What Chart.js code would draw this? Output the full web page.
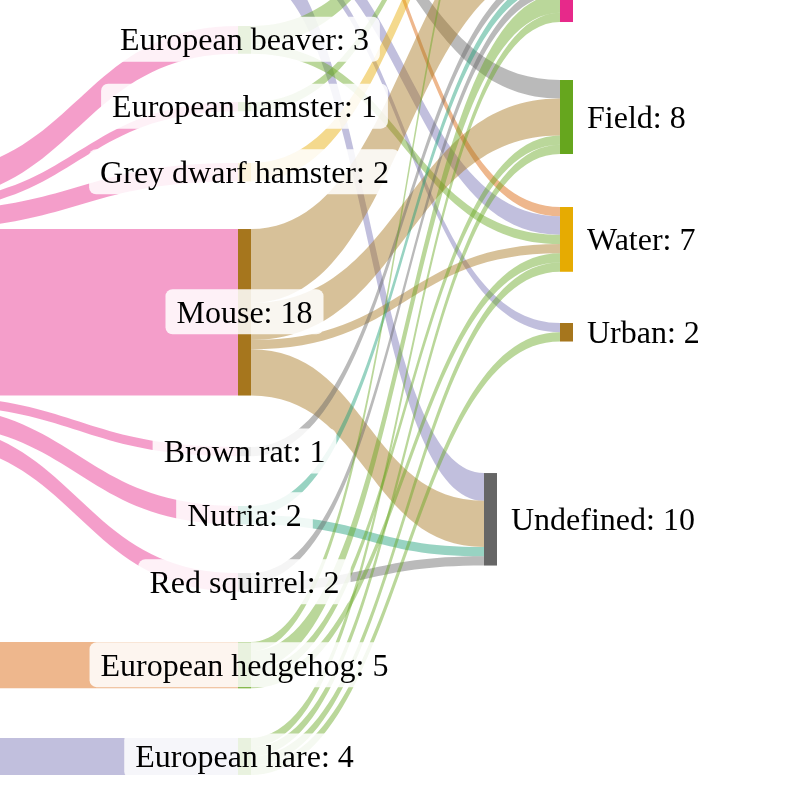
<!DOCTYPE html>
<html>
<head>
<meta charset="utf-8">
<script src="https://cdn.jsdelivr.net/npm/chart.js@4.4.1/dist/chart.umd.min.js"></script>
<style>
  html, body { margin: 0; padding: 0; background: #fff; }
  #wrap { width: 800px; height: 800px; }
</style>
</head>
<body>
<div id="wrap"><canvas id="sankey" width="800" height="800"></canvas></div>
<script>
// ---- data ----
const nodeNames = [
  'Rodentia', 'Eulipotyphla', 'Lagomorpha',
  'Stoat', 'Wild boar', 'Roe deer',
  'European beaver', 'European hamster', 'Grey dwarf hamster', 'Mouse',
  'Brown rat', 'Nutria', 'Red squirrel', 'European hedgehog', 'European hare',
  'Undefined',
  'Garden', 'Forest', 'Hedge', 'Field', 'Water', 'Urban'
];
const nodeColumn = [0, 0, 0, 1, 1, 1, 1, 1, 1, 1, 1, 1, 1, 1, 1, 2, 3, 3, 3, 3, 3, 3];

const linkSource = [
  'Rodentia', 'Rodentia', 'Rodentia', 'Rodentia', 'Rodentia', 'Rodentia', 'Rodentia',
  'Eulipotyphla', 'Lagomorpha',
  'Stoat', 'Wild boar', 'Roe deer', 'Roe deer', 'Roe deer',
  'European beaver', 'European beaver', 'European hamster', 'Grey dwarf hamster',
  'Mouse', 'Mouse', 'Mouse', 'Mouse',
  'Brown rat', 'Nutria', 'Nutria', 'Red squirrel', 'Red squirrel',
  'European hedgehog', 'European hedgehog', 'European hedgehog', 'European hedgehog',
  'European hare', 'European hare', 'European hare', 'European hare'
];
const linkTarget = [
  'European beaver', 'European hamster', 'Grey dwarf hamster', 'Mouse', 'Brown rat', 'Nutria', 'Red squirrel',
  'European hedgehog', 'European hare',
  'Water', 'Field', 'Water', 'Urban', 'Undefined',
  'Forest', 'Water', 'Forest', 'Forest',
  'Hedge', 'Field', 'Water', 'Undefined',
  'Hedge', 'Hedge', 'Undefined', 'Hedge', 'Undefined',
  'Garden', 'Hedge', 'Field', 'Water',
  'Hedge', 'Field', 'Water', 'Urban'
];
const linkValue = [
  3, 1, 2, 18, 1, 2, 2,
  5, 4,
  1, 2, 2, 1, 3,
  2, 1, 1, 2,
  8, 4, 1, 5,
  1, 1, 1, 1, 1,
  1, 2, 1, 1,
  1, 1, 1, 1
];

// ---- layout / style ----
const dark2 = {
  teal: '#1b9e77', orange: '#d95f02', purple: '#7570b3', pink: '#e7298a',
  green: '#66a61e', yellow: '#e6ab02', brown: '#a6761d', gray: '#666666'
};
const nodeColor = {
  'Rodentia': dark2.pink, 'Eulipotyphla': dark2.orange, 'Lagomorpha': dark2.purple,
  'Stoat': dark2.orange, 'Wild boar': dark2.gray, 'Roe deer': dark2.purple,
  'European beaver': dark2.green, 'European hamster': dark2.green, 'Grey dwarf hamster': dark2.yellow,
  'Mouse': dark2.brown, 'Brown rat': dark2.gray, 'Nutria': dark2.teal, 'Red squirrel': dark2.gray,
  'European hedgehog': dark2.green, 'European hare': dark2.green,
  'Undefined': dark2.gray,
  'Garden': dark2.orange, 'Forest': dark2.purple, 'Hedge': dark2.pink,
  'Field': dark2.green, 'Water': dark2.yellow, 'Urban': dark2.brown
};
// node top edge, in value units on the y scale
const nodeTop = {
  'Rodentia': 18.76, 'Eulipotyphla': 69.41, 'Lagomorpha': 79.78,
  'Stoat': -22.39, 'Wild boar': -15.99, 'Roe deer': -8.59,
  'European beaver': 2.81, 'European hamster': 11.03, 'Grey dwarf hamster': 17.62,
  'Mouse': 24.76, 'Brown rat': 48.32, 'Nutria': 54.70, 'Red squirrel': 61.95,
  'European hedgehog': 69.41, 'European hare': 79.78,
  'Undefined': 51.14,
  'Garden': -29.12, 'Forest': -22.37, 'Hedge': -11.62,
  'Field': 8.65, 'Water': 22.38, 'Urban': 34.92
};
const colLeft = [-95, 238, 484, 560];
const nodeWidth = 13;
const flowAlpha = 0.45;
const labelFont = '32px "Liberation Serif", "Times New Roman", serif';

// ---- sankey bookkeeping ----
const idx = {};
nodeNames.forEach((n, i) => idx[n] = i);
const links = linkValue.map((v, i) => ({ s: idx[linkSource[i]], t: idx[linkTarget[i]], v: v }));
const inSum = nodeNames.map(() => 0), outSum = nodeNames.map(() => 0);
links.forEach(l => { outSum[l.s] += l.v; inSum[l.t] += l.v; });
const nodeValue = nodeNames.map((n, i) => Math.max(inSum[i], outSum[i]));
const topOf = i => nodeTop[nodeNames[i]];
const centerOf = i => topOf(i) + nodeValue[i] / 2;

nodeNames.forEach((n, i) => {
  let off = topOf(i);
  links.filter(l => l.s === i).sort((a, b) => centerOf(a.t) - centerOf(b.t))
    .forEach(l => { l.sy = off; off += l.v; });
  off = topOf(i);
  links.filter(l => l.t === i).sort((a, b) => centerOf(a.s) - centerOf(b.s))
    .forEach(l => { l.ty = off; off += l.v; });
});

function rgba(hex, a) {
  const r = parseInt(hex.slice(1, 3), 16), g = parseInt(hex.slice(3, 5), 16), b = parseInt(hex.slice(5, 7), 16);
  return `rgba(${r}, ${g}, ${b}, ${a})`;
}

function roundRect(ctx, x, y, w, h, r) {
  ctx.beginPath();
  ctx.moveTo(x + r, y);
  ctx.arcTo(x + w, y, x + w, y + h, r);
  ctx.arcTo(x + w, y + h, x, y + h, r);
  ctx.arcTo(x, y + h, x, y, r);
  ctx.arcTo(x, y, x + w, y, r);
  ctx.closePath();
}

const sankeyPlugin = {
  id: 'sankey',
  beforeDatasetsDraw(chart) {
    const ctx = chart.ctx;
    const xs = chart.scales.x, ys = chart.scales.y;
    const px = v => xs.getPixelForValue(v);
    const py = v => ys.getPixelForValue(v);
    ctx.save();

    // flows
    links.forEach(l => {
      const x0 = px(colLeft[nodeColumn[l.s]] + nodeWidth);
      const x1 = px(colLeft[nodeColumn[l.t]]);
      const xm = (x0 + x1) / 2;
      const s0 = py(l.sy), s1 = py(l.sy + l.v);
      const t0 = py(l.ty), t1 = py(l.ty + l.v);
      ctx.beginPath();
      ctx.moveTo(x0, s0);
      ctx.bezierCurveTo(xm, s0, xm, t0, x1, t0);
      ctx.lineTo(x1, t1);
      ctx.bezierCurveTo(xm, t1, xm, s1, x0, s1);
      ctx.closePath();
      ctx.fillStyle = rgba(nodeColor[nodeNames[l.s]], flowAlpha);
      ctx.fill();
    });

    // nodes
    nodeNames.forEach((n, i) => {
      const x0 = px(colLeft[nodeColumn[i]]);
      const x1 = px(colLeft[nodeColumn[i]] + nodeWidth);
      const y0 = py(topOf(i)), y1 = py(topOf(i) + nodeValue[i]);
      ctx.fillStyle = nodeColor[n];
      ctx.fillRect(x0, y0, x1 - x0, y1 - y0);
    });

    // labels
    ctx.font = labelFont;
    ctx.textBaseline = 'alphabetic';
    nodeNames.forEach((n, i) => {
      const col = nodeColumn[i];
      if (col === 0) return;
      const text = n + ': ' + nodeValue[i];
      const w = ctx.measureText(text).width;
      const cy = py(centerOf(i));
      let tx;
      if (col === 1) {
        tx = px(colLeft[col] + nodeWidth / 2) - w / 2;
      } else {
        tx = px(colLeft[col] + nodeWidth) + 14;
      }
      ctx.fillStyle = 'rgba(255, 255, 255, 0.86)';
      roundRect(ctx, tx - 11, cy - 23, w + 22, 45, 7);
      ctx.fill();
      ctx.fillStyle = '#000';
      ctx.fillText(text, tx, cy + 10.5);
    });
    ctx.restore();
  }
};

new Chart(document.getElementById('sankey'), {
  type: 'scatter',
  data: {
    datasets: [{
      data: nodeNames.map((n, i) => ({ x: colLeft[nodeColumn[i]], y: centerOf(i) })),
      pointRadius: 0
    }]
  },
  options: {
    responsive: false,
    animation: false,
    devicePixelRatio: 1,
    events: [],
    layout: { padding: 0 },
    plugins: { legend: { display: false }, tooltip: { enabled: false } },
    scales: {
      x: { type: 'linear', min: 0, max: 800, display: false },
      y: { type: 'linear', min: 0, max: 800 / 9.25, reverse: true, display: false }
    }
  },
  plugins: [sankeyPlugin]
});
</script>
</body>
</html>
